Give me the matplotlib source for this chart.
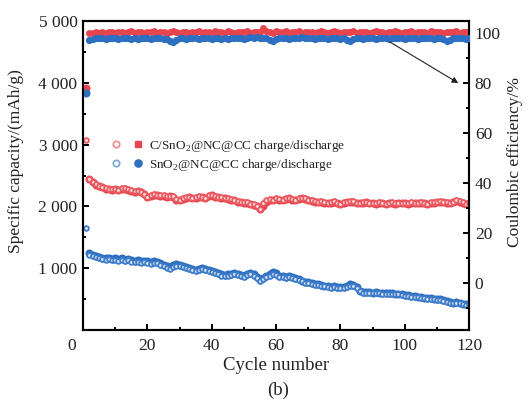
import numpy as np
import matplotlib.pyplot as plt
from matplotlib.legend_handler import HandlerTuple
from matplotlib.lines import Line2D

plt.rcParams['font.family'] = ['Liberation Serif', 'DejaVu Serif']
plt.rcParams['mathtext.fontset'] = 'custom'
plt.rcParams['mathtext.rm'] = 'Liberation Serif'

cycles = np.arange(1, 121)

# C/SnO2@NC@CC discharge capacity, mAh/g
red_dis = [3910,
           2440, 2390, 2350, 2330, 2310, 2290, 2280, 2270, 2275,
           2260, 2280, 2290, 2270, 2250, 2240, 2245, 2230, 2200, 2150,
           2170, 2190, 2180, 2170, 2175, 2160, 2165, 2150, 2110, 2100,
           2120, 2140, 2150, 2130, 2140, 2160, 2150, 2130, 2170, 2180,
           2160, 2150, 2140, 2130, 2120, 2110, 2100, 2080, 2070, 2060,
           2050, 2040, 2030, 2000, 1960, 2010, 2080, 2110, 2100, 2120,
           2110, 2100, 2120, 2130, 2110, 2100, 2120, 2140, 2120, 2100,
           2090, 2080, 2070, 2080, 2060, 2050, 2060, 2070, 2050, 2040,
           2060, 2070, 2080, 2070, 2060, 2050, 2060, 2070, 2060, 2050,
           2040, 2060, 2050, 2040, 2050, 2060, 2040, 2050, 2060, 2050,
           2040, 2050, 2060, 2050, 2060, 2050, 2040, 2050, 2060, 2070,
           2080, 2070, 2060, 2050, 2070, 2090, 2080, 2060, 2040, 2050]

# SnO2@NC@CC discharge capacity, mAh/g
blue_dis = [3830,
            1250, 1220, 1200, 1190, 1170, 1160, 1170, 1150, 1160,
            1150, 1160, 1140, 1150, 1130, 1120, 1130, 1110, 1120, 1110,
            1100, 1110, 1100, 1080, 1060, 1030, 1020, 1050, 1070, 1060,
            1040, 1020, 1000, 990, 980, 990, 1000, 990, 970, 960,
            940, 920, 900, 890, 900, 910, 920, 910, 890, 880,
            910, 930, 900, 860, 810, 840, 870, 900, 940, 920,
            880, 870, 860, 880, 860, 840, 830, 800, 780, 770,
            760, 750, 740, 730, 720, 710, 700, 710, 700, 690,
            700, 720, 740, 730, 700, 640, 620, 615, 610, 605,
            610, 605, 600, 600, 595, 600, 590, 590, 585, 570,
            560, 550, 545, 540, 530, 525, 520, 515, 510, 500,
            495, 490, 475, 455, 440, 450, 440, 425, 420, 410]

# first-cycle charge capacities
red_ch1 = 3075
blue_ch1 = 1650

# coulombic efficiency from cycle 2 on, %
red_ce = [99.9, 100.1, 100.3, 100.2, 100.5, 100.1, 100.4, 100.6, 100.2,
          100.3, 100.5, 100.1, 100.4, 100.7, 100.2, 100.3, 100.5, 100.1, 100.4,
          100.6, 100.9, 100.2, 100.5, 100.3, 100.1, 100.4, 100.7, 100.3, 100.2,
          100.5, 100.4, 100.1, 100.6, 100.3, 100.8, 100.2, 100.4, 100.5, 100.1,
          100.7, 100.3, 100.5, 100.2, 100.9, 100.4, 100.1, 100.6, 100.3, 100.5,
          100.7, 100.2, 100.4, 100.6, 100.3, 101.9, 101.0, 100.4, 100.1, 100.7,
          100.5, 100.3, 100.9, 100.2, 100.5, 100.4, 100.8, 100.1, 100.6, 100.3,
          100.5, 100.2, 100.4, 100.7, 100.3, 100.1, 100.5, 100.8, 100.4, 100.2,
          100.6, 100.3, 100.5, 100.9, 100.2, 100.4, 100.6, 100.3, 100.1, 100.5,
          100.7, 100.3, 100.4, 100.2, 100.6, 100.5, 101.0, 100.3, 100.2, 100.5,
          100.4, 100.7, 100.1, 100.3, 100.6, 100.4, 100.2, 100.8, 100.5, 100.3,
          100.4, 100.1, 100.6, 100.5, 100.3, 100.7, 100.2, 100.4, 100.3, 100.5]

blue_ce = [97.4, 97.8, 98.0, 97.9, 98.1, 97.8, 98.0, 98.2, 97.9,
           97.8, 98.0, 98.1, 97.9, 97.7, 98.0, 97.8, 98.1, 97.9, 98.0,
           97.8, 97.9, 98.1, 98.0, 97.8, 97.6, 97.0, 96.6, 97.4, 97.9,
           98.0, 97.8, 98.1, 97.9, 98.0, 97.8, 98.2, 97.9, 98.0, 97.8,
           98.1, 97.9, 97.7, 98.0, 97.8, 98.1, 97.9, 98.2, 98.0, 97.8,
           98.1, 98.3, 98.0, 98.4, 98.2, 98.1, 97.9, 97.4, 96.8, 97.6,
           97.9, 98.1, 98.0, 97.8, 98.2, 97.9, 98.0, 98.3, 98.1, 97.9,
           98.0, 97.8, 98.1, 97.9, 98.0, 97.8, 98.2, 97.9, 98.0, 97.8,
           98.1, 97.4, 96.8, 97.6, 97.9, 98.0, 97.8, 98.1, 97.9, 98.0,
           97.8, 97.9, 98.1, 98.0, 97.8, 97.9, 98.1, 97.9, 98.0, 97.8,
           98.0, 97.9, 98.1, 97.8, 98.0, 97.9, 98.2, 98.0, 97.8, 97.9,
           98.1, 97.6, 96.8, 97.4, 98.0, 98.2, 98.0, 97.9, 97.8, 98.0]

red_dis = np.array(red_dis, float)
blue_dis = np.array(blue_dis, float)
red_ce = np.array(red_ce)
blue_ce = np.array(blue_ce)
red_ch = np.concatenate([[red_ch1], red_dis[1:] * red_ce / 100])
blue_ch = np.concatenate([[blue_ch1], blue_dis[1:] * blue_ce / 100])

red = '#E8444E'
red_light = '#EC5A62'
blue = '#2D6FC0'
blue_light = '#3F7DCA'
tcol = '#222222'

fig = plt.figure(figsize=(5.29, 4.05), dpi=100)
ax = fig.add_axes([0.157, 0.185, 0.73, 0.763])
ax2 = ax.twinx()

# discharge: filled, charge: small open circles on top
ms_d = 5.8
ms_c = 3.4
ax.plot(cycles, red_dis, 'o', ms=ms_d, color=red, mew=0, zorder=3)
ax.plot(cycles, red_ch, 'o', ms=ms_c, mfc='#FBE3E4', mec=red_light, mew=1.3, zorder=4)
ax.plot(cycles, blue_dis, 'o', ms=ms_d, color=blue, mew=0, zorder=3)
ax.plot(cycles, blue_ch, 'o', ms=ms_c, mfc='#DDE8F6', mec=blue_light, mew=1.3, zorder=4)

ax2.plot(cycles[1:], red_ce, 'o', ms=5.0, color=red, mew=0, zorder=2)
ax2.plot(cycles[1:], blue_ce, 'o', ms=5.2, color=blue, mew=0, zorder=3)

ax.set_xlim(0, 120)
ax.set_ylim(0, 5000)
ax2.set_ylim(-18.8, 104.8)

ax.set_xticks(np.arange(0, 121, 20))
ax.set_xticks(np.arange(10, 120, 20), minor=True)
ax.set_xticklabels([''] + [str(v) for v in range(20, 121, 20)])
ax.set_yticks(np.arange(0, 5001, 1000))
ax.set_yticks(np.arange(500, 5000, 1000), minor=True)
ax.set_yticklabels([''] + ['%d 000' % (v // 1000) for v in range(1000, 5001, 1000)])
ax2.set_yticks(np.arange(0, 101, 20))
ax2.set_yticks(np.arange(-10, 101, 20), minor=True)

for a in (ax, ax2):
    a.tick_params(which='both', direction='in', width=1.4, labelsize=12.5,
                  labelcolor=tcol, top=False)
    a.tick_params(which='major', length=4.5)
    a.tick_params(which='minor', length=2.5)
    for s in a.spines.values():
        s.set_linewidth(1.5)
ax.tick_params(axis='x', pad=6)
ax.tick_params(axis='y', pad=4)
ax2.tick_params(axis='y', pad=4)

# lone origin label below the corner
ax.text(-0.0285, -0.053, '0', transform=ax.transAxes, ha='center', va='center',
        fontsize=12.5, color=tcol)

ax.set_xlabel('Cycle number', fontsize=13.5, color=tcol, labelpad=2)
fig.text(0.030, 0.602, 'Specific capacity/(mAh/g)', rotation=90,
         ha='center', va='center', fontsize=12.5, color=tcol)
fig.text(0.9735, 0.600, 'Coulombic efficiency/%', rotation=90,
         ha='center', va='center', fontsize=12.5, color=tcol)

fig.text(0.525, 0.035, '(b)', ha='center', va='center', fontsize=13.5, color=tcol)

ax2.annotate('', xy=(116.6, 80), xytext=(95.4, 96.4),
             arrowprops=dict(arrowstyle='-|>', color='#222222', lw=0.8,
                             mutation_scale=9, shrinkA=0, shrinkB=0))

h_red = (Line2D([], [], ls='', marker='o', ms=4.6, mfc='white', mec='#F08A90', mew=1.2),
         Line2D([], [], ls='', marker='s', ms=5.0, color=red))
h_blue = (Line2D([], [], ls='', marker='o', ms=4.6, mfc='white', mec='#7AA5DC', mew=1.2),
          Line2D([], [], ls='', marker='o', ms=5.2, color=blue))
leg = ax.legend([h_red, h_blue],
                ['C/SnO$_2$@NC@CC charge/discharge', 'SnO$_2$@NC@CC charge/discharge'],
                handler_map={tuple: HandlerTuple(ndivide=None, pad=1.2)},
                loc='upper left', bbox_to_anchor=(0.045, 0.66), frameon=False,
                fontsize=9.5, handlelength=2.2, handletextpad=0.6, labelspacing=0.2)
for t in leg.get_texts():
    t.set_color(tcol)

fig.savefig('out.png', dpi=100)
